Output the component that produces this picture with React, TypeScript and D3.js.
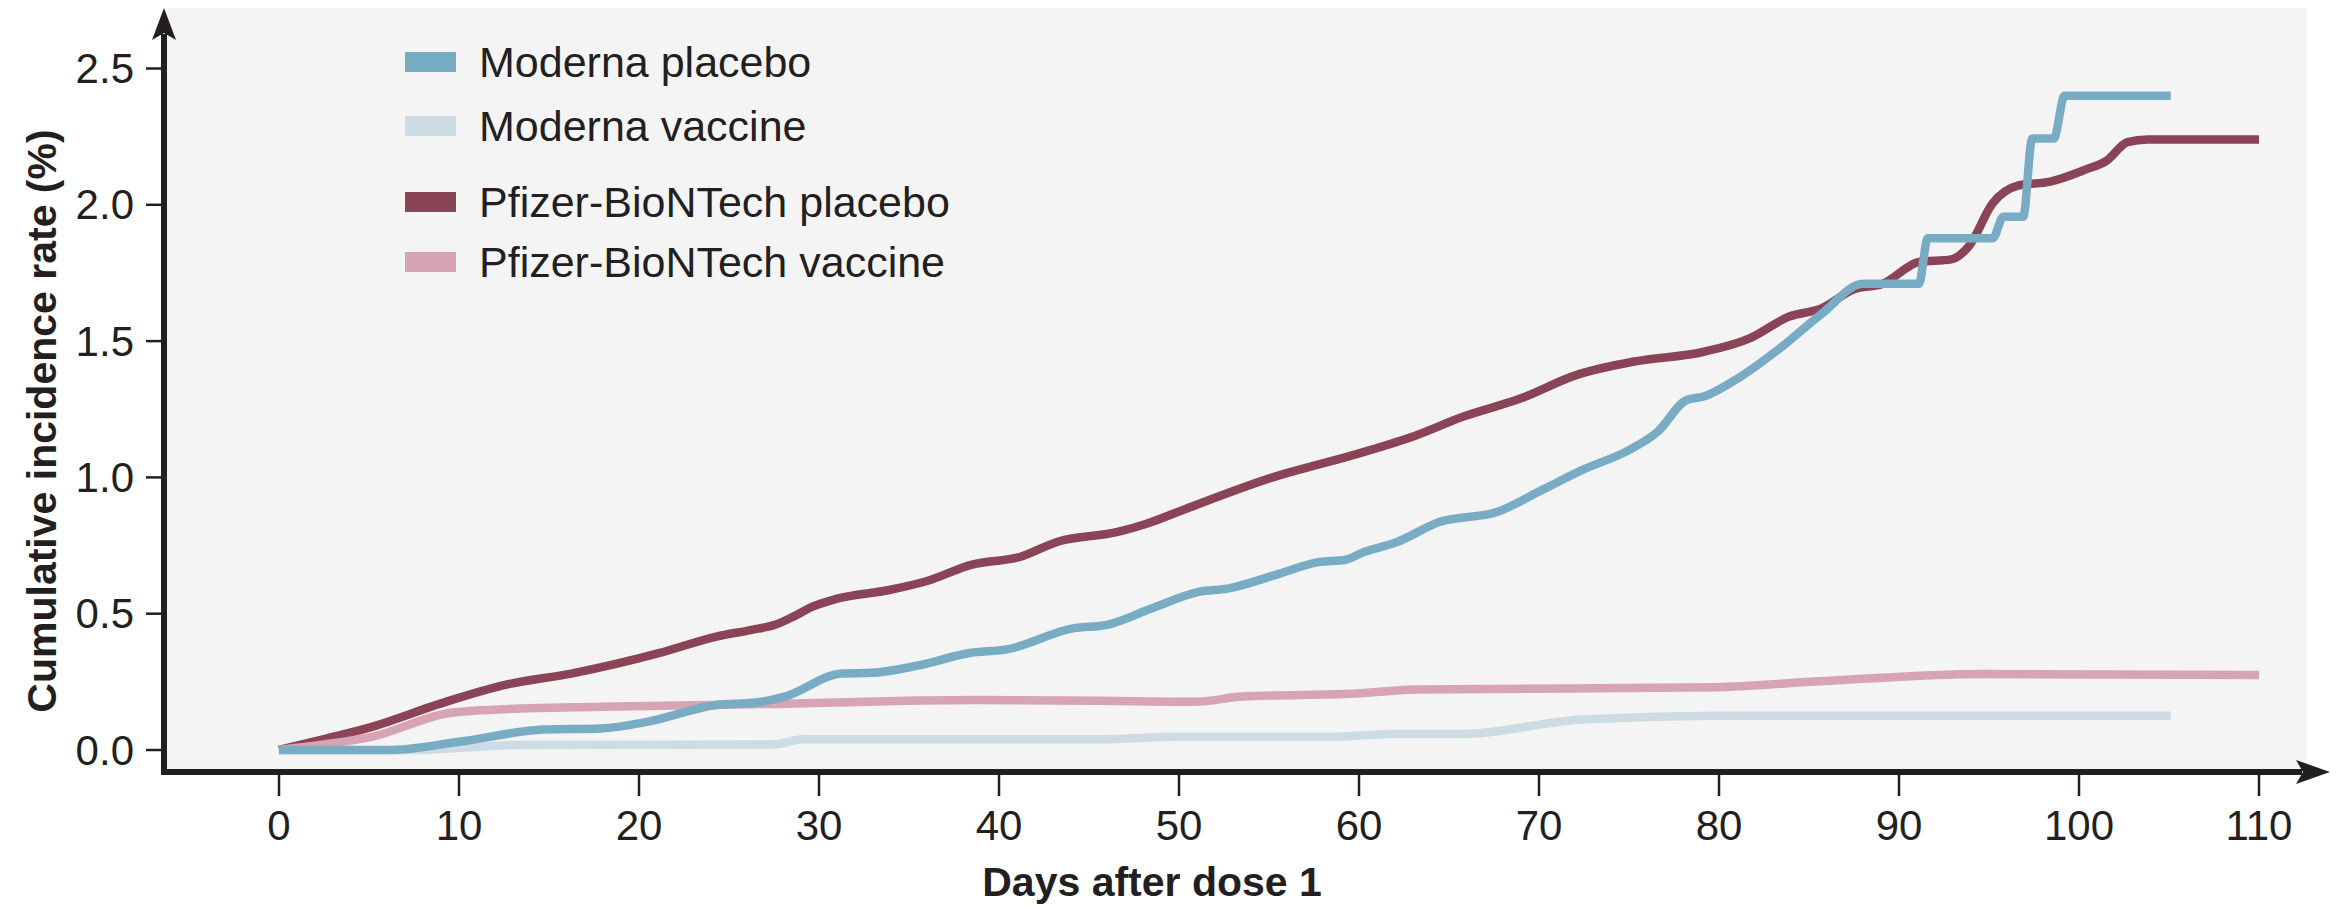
import React, { useRef, useEffect } from 'react';
import * as d3 from 'd3';

const WIDTH = 2338;
const HEIGHT = 907;

// days after dose 1 / cumulative incidence (%)
const pfizerPlaceboDays = [0, 2.5, 5.2, 9, 12.5, 16.3, 21.1, 24.3, 26.2, 27.6, 28.6, 29.6, 31, 33.9, 36, 38.5, 41.2, 43.3, 46.6, 48.2, 50.4, 55.2, 60, 63.2, 65.8, 69, 72.1, 75.3, 79.1, 81.7, 83.9, 85.7, 87.5, 89.1, 91.1, 92.9, 93.9, 95.2, 96.6, 98.4, 100.4, 101.5, 102.7, 103.8, 110];
const pfizerPlaceboVals = [0, 0.04, 0.086, 0.171, 0.238, 0.281, 0.355, 0.416, 0.44, 0.46, 0.49, 0.525, 0.555, 0.587, 0.62, 0.68, 0.709, 0.765, 0.8, 0.83, 0.885, 1.0, 1.088, 1.155, 1.223, 1.29, 1.376, 1.425, 1.46, 1.51, 1.59, 1.62, 1.69, 1.71, 1.79, 1.8, 1.85, 2.005, 2.07, 2.085, 2.13, 2.16, 2.23, 2.24, 2.24];

const modernaPlaceboDays = [0, 6.1, 10, 14.7, 17.9, 20.5, 24.3, 26.5, 28.1, 31.3, 32.9, 35.5, 38.3, 40.5, 44.1, 46, 48.5, 51.1, 52.7, 55.5, 57.8, 59.2, 60.3, 62, 64.5, 67.7, 70.2, 72.5, 75, 76.6, 78.2, 79.1, 81.2, 83.5, 85.7, 88, 91.1, 91.6, 95.2, 95.8, 96.9, 97.4, 98.6, 99.2, 105.1];
const modernaPlaceboVals = [0, 0, 0.03, 0.075, 0.079, 0.104, 0.165, 0.174, 0.196, 0.281, 0.283, 0.31, 0.355, 0.37, 0.446, 0.459, 0.52, 0.58, 0.592, 0.645, 0.69, 0.697, 0.727, 0.76, 0.837, 0.874, 0.955, 1.03, 1.1, 1.168, 1.284, 1.296, 1.37, 1.48, 1.6, 1.71, 1.71, 1.877, 1.877, 1.956, 1.956, 2.243, 2.243, 2.4, 2.4];

const pfizerVaccineDays = [0, 2.5, 5.2, 9.3, 11.6, 17.9, 27.5, 38.7, 45.6, 50.9, 53.5, 60.1, 63.2, 79.8, 85.1, 94.7, 110];
const pfizerVaccineVals = [0, 0.02, 0.049, 0.134, 0.147, 0.159, 0.169, 0.183, 0.181, 0.177, 0.196, 0.208, 0.222, 0.23, 0.25, 0.279, 0.275];

const modernaVaccineDays = [0, 7.6, 13.1, 27.5, 29.1, 45.6, 50, 58.8, 61.8, 65.8, 72.4, 80.8, 105.1];
const modernaVaccineVals = [0, 0, 0.018, 0.02, 0.039, 0.039, 0.049, 0.049, 0.059, 0.059, 0.112, 0.126, 0.126];

const xTicks = [0, 10, 20, 30, 40, 50, 60, 70, 80, 90, 100, 110];
const yTicks = [0, 0.5, 1.0, 1.5, 2.0, 2.5];

const legendLabels = ['Moderna placebo', 'Moderna vaccine', 'Pfizer-BioNTech placebo', 'Pfizer-BioNTech vaccine'];
const legendColors = ['#78acc5', '#cddbe4', '#8a4357', '#d6a4b3'];

const AXIS = '#231f20';
const FONT = 'Liberation Sans, Arial, Helvetica, sans-serif';

export default function App() {
  const svgRef = useRef<SVGSVGElement>(null);

  useEffect(() => {
    document.body.style.margin = '0';
    if (!svgRef.current) return;
    const svg = d3.select(svgRef.current);
    svg.selectAll('*').remove();

    const x = d3.scaleLinear().domain([0, 110]).range([279, 2259]);
    const y = d3.scaleLinear().domain([0, 2.5]).range([750, 68.5]);

    const axisX = 164;
    const axisY = 772;

    // grey plot panel
    svg.append('rect')
      .attr('x', axisX).attr('y', 8)
      .attr('width', 2307 - axisX).attr('height', axisY - 8)
      .attr('fill', '#f4f4f4');

    const line = d3.line<[number, number]>()
      .x((d) => x(d[0]))
      .y((d) => y(d[1]))
      .curve(d3.curveMonotoneX);

    // back to front
    const series = [
      { days: modernaVaccineDays, vals: modernaVaccineVals, color: legendColors[1] },
      { days: pfizerPlaceboDays, vals: pfizerPlaceboVals, color: legendColors[2] },
      { days: pfizerVaccineDays, vals: pfizerVaccineVals, color: legendColors[3] },
      { days: modernaPlaceboDays, vals: modernaPlaceboVals, color: legendColors[0] },
    ];
    series.forEach((s) => {
      const pts = s.days.map((d, i) => [d, s.vals[i]] as [number, number]);
      svg.append('path')
        .attr('d', line(pts) ?? '')
        .attr('fill', 'none')
        .attr('stroke', s.color)
        .attr('stroke-width', 8.5)
        .attr('stroke-linejoin', 'round');
    });

    // y axis + arrow
    svg.append('line')
      .attr('x1', axisX).attr('y1', axisY + 3)
      .attr('x2', axisX).attr('y2', 34)
      .attr('stroke', AXIS).attr('stroke-width', 6);
    svg.append('path')
      .attr('d', `M${axisX},8 L${axisX + 12},40 L${axisX},33 L${axisX - 12},40 Z`)
      .attr('fill', AXIS);

    // x axis + arrow
    svg.append('line')
      .attr('x1', axisX - 3).attr('y1', axisY)
      .attr('x2', 2302).attr('y2', axisY)
      .attr('stroke', AXIS).attr('stroke-width', 6);
    svg.append('path')
      .attr('d', `M2330,${axisY} L2296,${axisY - 12} L2303,${axisY} L2296,${axisY + 12} Z`)
      .attr('fill', AXIS);

    // y ticks
    yTicks.forEach((v) => {
      svg.append('line')
        .attr('x1', axisX - 18).attr('x2', axisX)
        .attr('y1', y(v)).attr('y2', y(v))
        .attr('stroke', AXIS).attr('stroke-width', 2.5);
      svg.append('text')
        .attr('x', axisX - 30)
        .attr('y', y(v))
        .attr('text-anchor', 'end')
        .attr('dominant-baseline', 'central')
        .attr('font-family', FONT)
        .attr('font-size', 42)
        .attr('fill', AXIS)
        .text(v.toFixed(1));
    });

    // x ticks
    xTicks.forEach((v) => {
      svg.append('line')
        .attr('x1', x(v)).attr('x2', x(v))
        .attr('y1', axisY).attr('y2', axisY + 24)
        .attr('stroke', AXIS).attr('stroke-width', 2.5);
      svg.append('text')
        .attr('x', x(v))
        .attr('y', 825)
        .attr('text-anchor', 'middle')
        .attr('dominant-baseline', 'central')
        .attr('font-family', FONT)
        .attr('font-size', 42)
        .attr('fill', AXIS)
        .text(String(v));
    });

    // axis titles
    svg.append('text')
      .attr('x', 1152)
      .attr('y', 896)
      .attr('text-anchor', 'middle')
      .attr('font-family', FONT)
      .attr('font-weight', 'bold')
      .attr('font-size', 41)
      .attr('fill', AXIS)
      .text('Days after dose 1');

    svg.append('text')
      .attr('transform', 'translate(56, 421) rotate(-90)')
      .attr('text-anchor', 'middle')
      .attr('font-family', FONT)
      .attr('font-weight', 'bold')
      .attr('font-size', 41)
      .attr('fill', AXIS)
      .text('Cumulative incidence rate (%)');

    // legend
    const legendY = [62, 126, 202, 262];
    legendLabels.forEach((label, i) => {
      svg.append('rect')
        .attr('x', 405).attr('y', legendY[i] - 10)
        .attr('width', 51).attr('height', 20)
        .attr('fill', legendColors[i]);
      svg.append('text')
        .attr('x', 479)
        .attr('y', legendY[i])
        .attr('dominant-baseline', 'central')
        .attr('font-family', FONT)
        .attr('font-size', 43)
        .attr('fill', AXIS)
        .text(label);
    });
  }, []);

  return <svg ref={svgRef} width={WIDTH} height={HEIGHT} viewBox={`0 0 ${WIDTH} ${HEIGHT}`} style={{ display: 'block', background: '#fff' }} />;
}
